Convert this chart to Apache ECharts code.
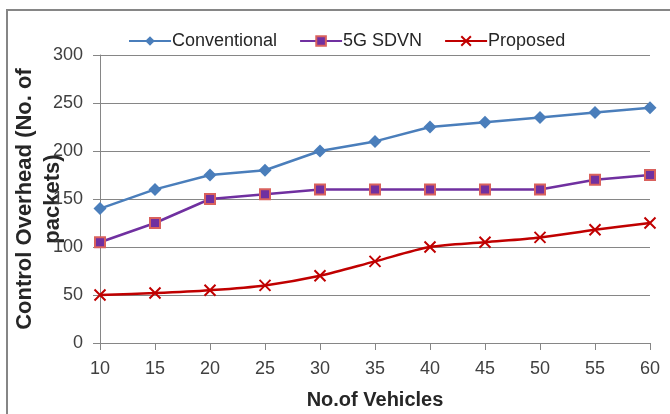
<!DOCTYPE html>
<html><head><meta charset="utf-8">
<script src="https://cdn.jsdelivr.net/npm/echarts@6/dist/echarts.min.js"></script>
<style>html,body{margin:0;padding:0;background:#fff}#c{width:670px;height:414px}</style>
</head><body><div id="c"></div>
<script>
const categories = ['10','15','20','25','30','35','40','45','50','55','60'];
const conventional = [140,160,175,180,200,210,225,230,235,240,245];
const sdvn5g = [105,125,150,155,160,160,160,160,160,170,175];
const proposed = [50,52,55,60,70,85,100,105,110,118,125];
const yTicks = [0,50,100,150,200,250,300];

const chart = echarts.init(document.getElementById('c'), null, {renderer:'canvas'});
const font = 'Liberation Sans';
chart.setOption({
  animation:false,
  backgroundColor:'#fff',
  graphic:[{type:'rect',shape:{x:7,y:10,width:720,height:480},style:{fill:'none',stroke:'#868686',lineWidth:2},silent:true,z:-1}],
  legend:{
    top:32, left:128, padding:0, itemWidth:42, itemHeight:12, itemGap:22,
    textStyle:{fontFamily:font,fontSize:18,color:'#262626',padding:[0,0,0,-4]},
    data:['Conventional','5G SDVN','Proposed']
  },
  grid:{left:100,right:20,top:55,bottom:71,outerBoundsMode:'none',containLabel:false},
  xAxis:{
    type:'category', data:categories, boundaryGap:false,
    name:'No.of Vehicles', nameLocation:'middle', nameGap:47, nameMoveOverlap:false,
    nameTextStyle:{fontFamily:font,fontWeight:'bold',fontSize:20,color:'#262626'},
    axisLine:{lineStyle:{color:'#868686',width:1}},
    axisTick:{show:true,length:7,alignWithLabel:true,lineStyle:{color:'#868686'}},
    axisLabel:{fontFamily:font,fontSize:18,color:'#404040',margin:17},
    splitLine:{show:false}
  },
  yAxis:{
    type:'value', min:0, max:300, interval:50,
    name:'Control Overhead (No. of\npackets)', nameLocation:'middle', nameGap:33, nameRotate:90,
    nameMoveOverlap:false,
    nameTextStyle:{fontFamily:font,fontWeight:'bold',fontSize:22,color:'#262626',lineHeight:28},
    axisLine:{show:true,lineStyle:{color:'#868686',width:1}},
    axisTick:{show:true,length:7,lineStyle:{color:'#868686'}},
    axisLabel:{fontFamily:font,fontSize:18,color:'#404040',margin:17,
      formatter:v=>yTicks.includes(v)?String(v):''},
    splitLine:{show:true,lineStyle:{color:'#868686',width:1}}
  },
  series:[
    {name:'Conventional',type:'line',data:conventional,color:'#4a7ebb',
     lineStyle:{width:2.5,color:'#4a7ebb'},symbol:'diamond',symbolSize:13,
     itemStyle:{color:'#4a7ebb',borderWidth:0}},
    {name:'5G SDVN',type:'line',data:sdvn5g,color:'#7030a0',
     lineStyle:{width:2.5,color:'#7030a0'},symbol:'rect',symbolSize:10,
     itemStyle:{color:'#7030a0',borderColor:'#d9615d',borderWidth:2}},
    {name:'Proposed',type:'line',data:proposed,color:'#c00000',smooth:0.3,
     lineStyle:{width:2.5,color:'#c00000'},
     symbol:'path://M0,0 L10,10 M10,0 L0,10',symbolSize:11,
     itemStyle:{color:'none',borderColor:'#c00000',borderWidth:2}}
  ]
});
</script></body></html>
